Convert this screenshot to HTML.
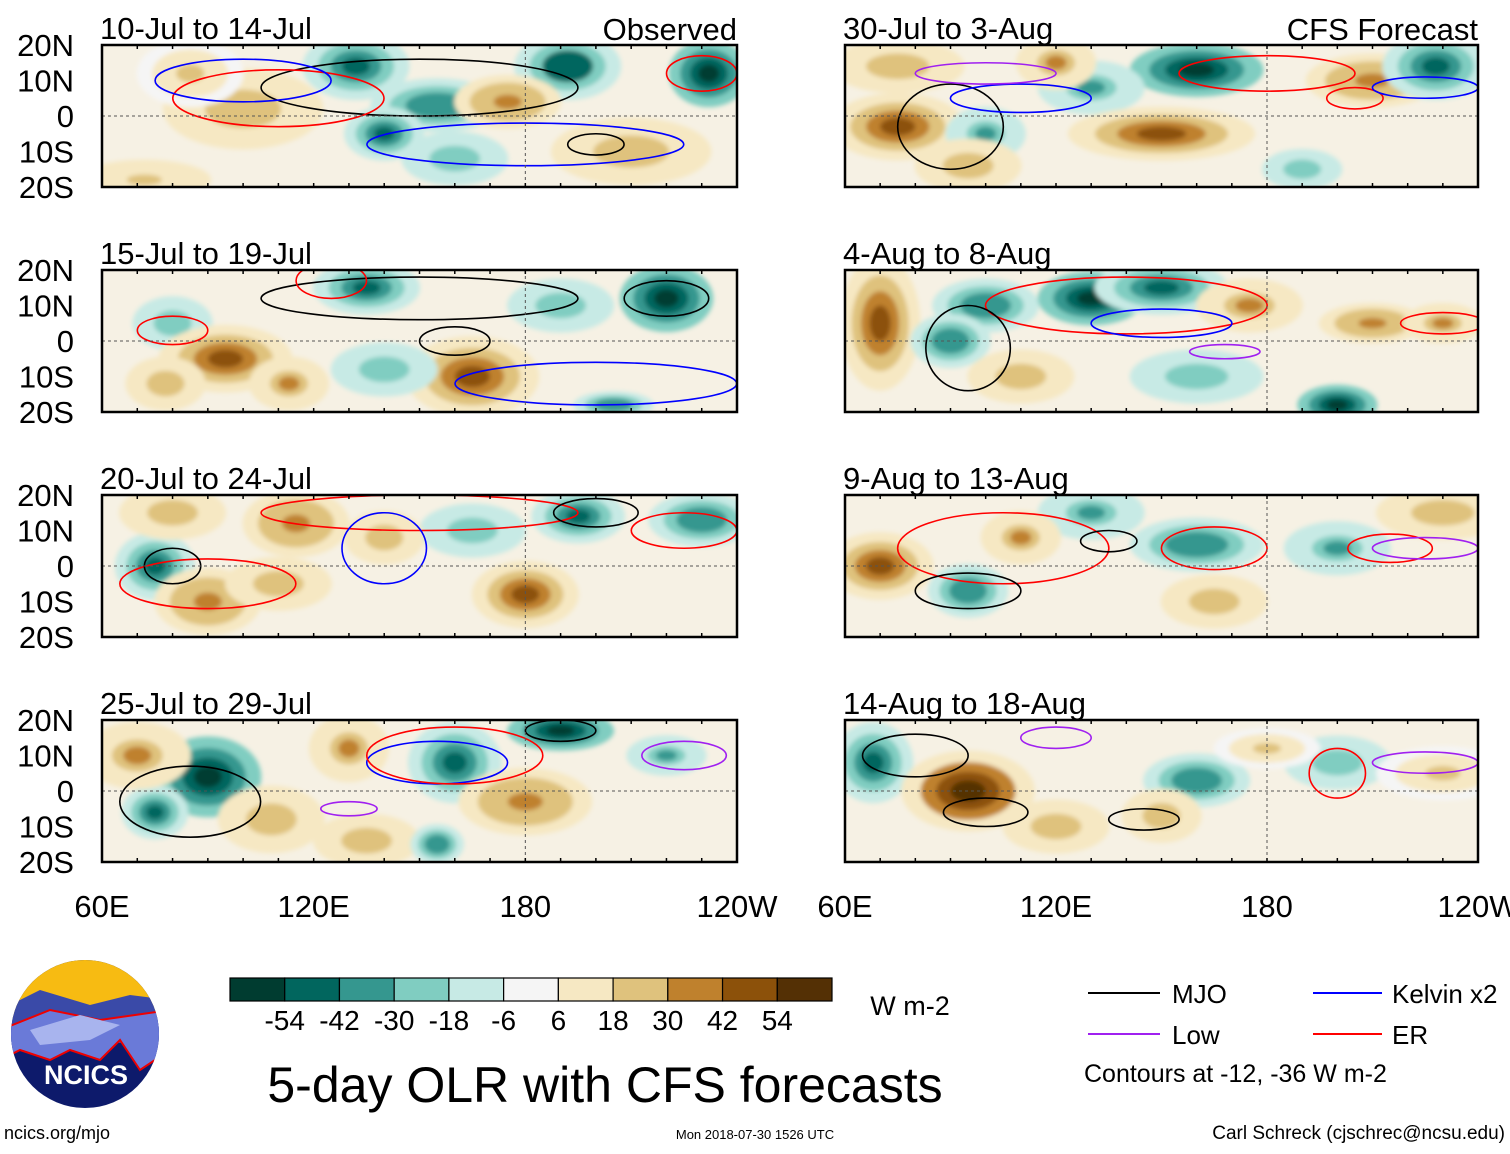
<!DOCTYPE html>
<html><head><meta charset="utf-8"><style>
body{margin:0;background:#fff;font-family:"Liberation Sans",sans-serif}
svg text{font-family:"Liberation Sans",sans-serif}
</style></head><body>
<svg id="c" width="1510" height="1149" viewBox="0 0 1510 1149" xmlns="http://www.w3.org/2000/svg">
<defs><filter id="bl" x="-50%" y="-50%" width="200%" height="200%"><feGaussianBlur stdDeviation="2.5"/></filter></defs>
<g id="panels"></g>
<g id="cbar"></g>
<text x="910" y="1015" font-size="27" text-anchor="middle">W m-2</text>
<text x="605" y="1102" font-size="50" text-anchor="middle">5-day OLR with CFS forecasts</text>
<text x="4" y="1139" font-size="18">ncics.org/mjo</text>
<text x="755" y="1139" font-size="13" text-anchor="middle">Mon 2018-07-30 1526 UTC</text>
<text x="1505" y="1139" font-size="19" text-anchor="end">Carl Schreck (cjschrec@ncsu.edu)</text>
<g>
<line x1="1088" y1="993" x2="1160" y2="993" stroke="#000" stroke-width="2"/><text x="1172" y="1003" font-size="26">MJO</text>
<line x1="1313" y1="993" x2="1382" y2="993" stroke="#00f" stroke-width="2"/><text x="1392" y="1003" font-size="26">Kelvin x2</text>
<line x1="1088" y1="1034" x2="1160" y2="1034" stroke="#a020f0" stroke-width="2"/><text x="1172" y="1044" font-size="26">Low</text>
<line x1="1313" y1="1034" x2="1382" y2="1034" stroke="#f00" stroke-width="2"/><text x="1392" y="1044" font-size="26">ER</text>
<text x="1084" y="1082" font-size="25">Contours at -12, -36 W m-2</text>
</g>
<g>
<clipPath id="lg"><ellipse cx="85" cy="1034" rx="74" ry="74"/></clipPath>
<g clip-path="url(#lg)">
<rect x="0" y="950" width="170" height="170" fill="#0d1a6b"/>
<rect x="0" y="950" width="170" height="70" fill="#f7bb12"/>
<path d="M0 1010 L40 990 L90 1005 L130 995 L170 1000 L170 1040 L0 1050Z" fill="#3a4aa8"/>
<path d="M0 1030 L50 1010 L100 1020 L170 1010 L170 1050 L140 1070 L120 1040 L100 1060 L70 1050 L50 1060 L20 1050 L0 1060Z" fill="#6a7ad8" stroke="#e00" stroke-width="2"/>
<path d="M30 1030 L80 1015 L120 1025 L90 1040 L40 1045Z" fill="#a8b4ee"/>
</g>
<text x="86" y="1084" font-size="27" font-weight="bold" fill="#fff" text-anchor="middle">NCICS</text>
</g>
</svg>
<script>
const NS="http://www.w3.org/2000/svg";
const svg=document.getElementById('c');
const levels=[-54,-42,-30,-18,-6,6,18,30,42,54];
const colors=["#003c30","#01665e","#35978f","#80cdc1","#c7eae5","#f5f5f5","#f6e8c3","#dfc27d","#bf812d","#8c510a","#543005"];
const titles=["10-Jul to 14-Jul","15-Jul to 19-Jul","20-Jul to 24-Jul","25-Jul to 29-Jul","30-Jul to 3-Aug","4-Aug to 8-Aug","9-Aug to 13-Aug","14-Aug to 18-Aug"];
const latTicks=["20N","10N","0","10S","20S"];
const lonTicks=["60E","120E","180","120W"];
const lonVals=[60,120,180,240];
// anomaly blobs: [lon, lat, W m-2, half-width deg lon, half-height deg lat]
const blobs=[
[[132,14,-36,8,5],[155,3,-30,10,4],[140,-5,-40,6,4],[192,14,-42,8,5],[232,12,-50,6,5],[100,2,20,12,6],[175,4,30,8,4],[210,-10,20,12,5],[72,-18,18,10,3],[85,12,15,8,5],[160,-12,-20,8,4]],
[[135,15,-36,8,4],[220,12,-50,7,5],[80,5,-20,6,4],[95,-5,35,10,5],[165,-10,40,10,6],[140,-8,-20,8,4],[190,10,-20,8,4],[78,-12,20,6,4],[205,-18,-30,6,2],[113,-12,25,6,4]],
[[75,0,-40,6,5],[115,12,30,8,5],[90,-10,30,8,5],[180,-8,35,8,5],[195,14,-40,7,4],[230,13,-30,8,4],[165,10,-20,8,4],[110,-5,20,8,4],[140,8,20,6,4],[80,15,20,8,4]],
[[90,4,-45,8,6],[75,-6,-35,5,4],[108,-8,20,8,5],[160,8,-40,7,6],[190,17,-50,8,3],[180,-3,30,10,5],[130,12,25,6,5],[70,10,25,8,5],[220,10,-25,6,3],[135,-14,20,8,4],[155,-15,-30,4,3]],
[[75,14,20,10,4],[75,-3,35,10,5],[160,13,-45,10,4],[130,8,-25,8,4],[150,-5,35,14,4],[210,10,30,10,4],[228,14,-35,8,5],[100,-5,-25,6,4],[95,-14,20,8,4],[190,-15,-20,6,3],[120,15,25,6,4]],
[[70,5,35,6,10],[100,10,-30,8,4],[130,12,-45,8,4],[150,15,-40,10,4],[90,0,-30,6,4],[210,5,30,8,3],[230,5,25,6,3],[175,10,25,8,4],[160,-10,-20,10,4],[200,-18,-50,6,3],[110,-10,20,8,4]],
[[70,0,35,8,5],[95,-7,-30,6,4],[160,6,-30,10,4],[130,15,-25,8,4],[200,5,-25,8,4],[110,8,25,6,4],[165,-10,20,8,4],[230,15,20,10,4]],
[[68,8,-40,6,6],[95,0,45,10,6],[160,3,-30,8,4],[200,8,-20,8,4],[150,-7,20,6,4],[120,-10,20,8,4],[230,5,15,10,4],[180,12,15,8,3]]
];
// contours: [lon, lat, half-width, half-height, type 0 MJO 1 Kelvin 2 Low 3 ER]
const contours=[
[[150,8,45,8,0],[110,5,30,8,3],[100,10,25,6,1],[180,-8,45,6,1],[200,-8,8,3,0],[230,12,10,5,3]],
[[150,12,45,6,0],[125,17,10,5,3],[80,3,10,4,3],[160,0,10,4,0],[220,12,12,5,0],[200,-12,40,6,1]],
[[150,15,45,5,3],[140,5,12,10,1],[90,-5,25,7,3],[80,0,8,5,0],[200,15,12,4,0],[225,10,15,5,3]],
[[85,-3,20,10,0],[190,17,10,3,0],[155,8,20,6,1],[160,10,25,8,3],[225,10,12,4,2],[130,-5,8,2,2]],
[[90,-3,15,12,0],[180,12,25,5,3],[110,5,20,4,1],[100,12,20,3,2],[205,5,8,3,3],[225,8,15,3,1]],
[[140,10,40,8,3],[95,-2,12,12,0],[150,5,20,4,1],[230,5,12,3,3],[168,-3,10,2,2]],
[[105,5,30,10,3],[95,-7,15,5,0],[165,5,15,6,3],[215,5,12,4,3],[225,5,15,3,2],[135,7,8,3,0]],
[[80,10,15,6,0],[100,-6,12,4,0],[145,-8,10,3,0],[200,5,8,7,3],[225,8,15,3,2],[120,15,10,3,2]]
];
const lineCol=["#000","#00f","#a020f0","#f00"];
function el(t,a,p){const e=document.createElementNS(NS,t);for(const k in a)e.setAttribute(k,a[k]);(p||svg).appendChild(e);return e;}
function colorFor(v){let i=0;while(i<levels.length&&v>levels[i])i++;return colors[i];}
const panelsG=document.getElementById('panels');
for(let p=0;p<8;p++){
  const col=p<4?0:1,row=p%4;
  const X0=col?845:102,X1=col?1478:737,Y0=45+row*225,Y1=Y0+142;
  const xs=lon=>X0+(lon-60)/180*(X1-X0);
  const ys=lat=>Y0+(20-lat)/40*(Y1-Y0);
  const g=el('g',{},panelsG);
  
  
  const cp=el('clipPath',{id:'cp'+p},g);el('rect',{x:X0,y:Y0,width:X1-X0,height:Y1-Y0},cp);
  el('rect',{x:X0,y:Y0,width:X1-X0,height:Y1-Y0,fill:'#f6f1e4'},g);
  const bg=el('g',{'clip-path':'url(#cp'+p+')'},g);
  const fg=el('g',{filter:'url(#bl)'},bg);
  blobs[p].forEach(b=>{
    const steps=[1.9,1.35,0.9,0.5];
    const mult=[0.4,0.7,1.0,1.25];
    steps.forEach((s,k)=>{
      const v=b[2]*mult[k];
      const e=el('ellipse',{cx:xs(b[0]),cy:ys(b[1]),rx:b[3]*s*3.52,ry:b[4]*s*3.55,fill:colorFor(v)},fg);
      
      
    });
  });
  contours[p].forEach(c=>{
    const e=el('ellipse',{cx:xs(c[0]),cy:ys(c[1]),rx:c[2]*3.52,ry:c[3]*3.55,fill:'none',stroke:lineCol[c[4]],'stroke-width':1.6},bg);
    
    
  });
  el('line',{x1:X0,x2:X1,y1:ys(0),y2:ys(0),stroke:'#555','stroke-dasharray':'3,3','stroke-width':1},g);
  el('line',{x1:xs(180),x2:xs(180),y1:Y0,y2:Y1,stroke:'#555','stroke-dasharray':'3,3','stroke-width':1},g);
  el('rect',{x:X0,y:Y0,width:X1-X0,height:Y1-Y0,fill:'none',stroke:'#000','stroke-width':2.5},g);
  for(let l=60;l<=240;l+=10){el('line',{x1:xs(l),x2:xs(l),y1:Y0,y2:Y0+4,stroke:'#000','stroke-width':1.5},g);el('line',{x1:xs(l),x2:xs(l),y1:Y1,y2:Y1-4,stroke:'#000','stroke-width':1.5},g);}
  const t=el('text',{x:X0-2,y:Y0-6,'font-size':31},g);t.textContent=titles[p];
  
  if(p===0){const o=el('text',{x:X1,y:Y0-5,'font-size':31,'text-anchor':'end'},g);o.textContent='Observed';}
  if(p===4){const o=el('text',{x:X1,y:Y0-5,'font-size':31,'text-anchor':'end'},g);o.textContent='CFS Forecast';}
  if(col===0){latTicks.forEach((s,i)=>{const tt=el('text',{x:74,y:Y0+i*35.5+11,'font-size':31,'text-anchor':'end'},g);tt.textContent=s;});}
  if(row===3){lonTicks.forEach((s,i)=>{const tt=el('text',{x:xs(lonVals[i]),y:917,'font-size':31,'text-anchor':'middle'},g);tt.textContent=s;});}
}
const cb=document.getElementById('cbar');

const bw=602/11;
colors.forEach((c,i)=>{el('rect',{x:230+i*bw,y:978,width:bw,height:23,fill:c,stroke:'#000','stroke-width':1.2},cb);});
levels.forEach((v,i)=>{const t=el('text',{x:230+(i+1)*bw,y:1030,'font-size':28,'text-anchor':'middle'},cb);t.textContent=v;});
</script>
</body></html>
